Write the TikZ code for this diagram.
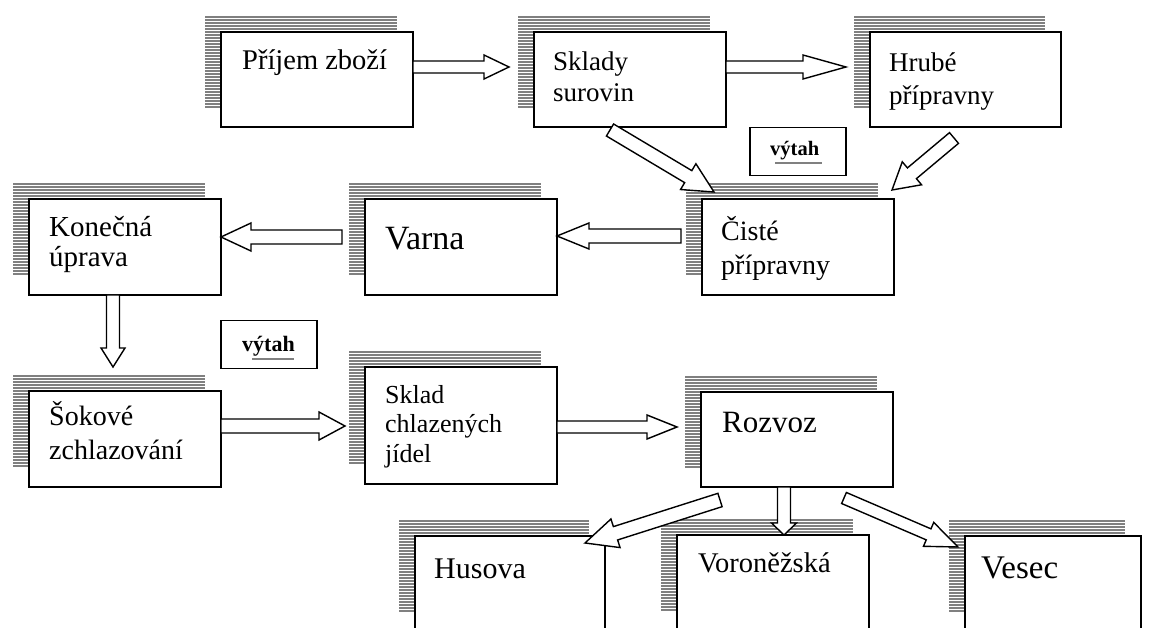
\documentclass[tikz,border=0pt]{standalone}
\usepackage{fontspec}
\setmainfont{Liberation Serif}
\tikzset{
  box/.style={draw, fill=white, line width=1.6pt, inner sep=0pt, outer sep=0pt},
  stripe/.style={draw=gray, line width=2pt},
  arrowline/.style={draw=black, fill=white, line width=1.4pt, line join=miter},
  lbl/.style={anchor=base west, inner sep=0pt, align=left},
  liftbox/.style={draw, fill=white, line width=1.5pt, inner sep=0pt, minimum width=96pt, minimum height=48pt, anchor=north west},
  liftline/.style={draw=gray, line width=2pt}
}
\newcommand{\stripedbox}[5]{%
  \pgfmathtruncatemacro{\nstripes}{(#5-4)/3}%
  \foreach \k in {0,...,\nstripes}{\draw[stripe] (#2-16,#3-15+3*\k) -- ++(#4,0);}
  \node[box, minimum width=#4pt, minimum height=#5pt, anchor=north west] (#1) at (#2,#3) {};
}
\newcommand{\blockarrow}[5]{%
  \path (#1); \pgfgetlastxy{\ax}{\ay}%
  \path (#2); \pgfgetlastxy{\bx}{\by}%
  \pgfmathsetmacro{\ang}{atan2(\by-\ay,\bx-\ax)}%
  \pgfmathsetmacro{\len}{veclen(\bx-\ax,\by-\ay)}%
  \pgfmathsetmacro{\hs}{\len-#5}%
  \begin{scope}[shift={(#1)}, rotate=\ang]
    \draw[arrowline] (0pt,-#3pt) -- (\hs pt,-#3pt) -- (\hs pt,-#4pt) -- (\len pt,0pt)
      -- (\hs pt,#4pt) -- (\hs pt,#3pt) -- (0pt,#3pt) -- cycle;
  \end{scope}
}
\begin{document}
\begin{tikzpicture}[x=1pt,y=-1pt]
\useasboundingbox (0,0) rectangle (1149,628);
\clip (0,0) rectangle (1149,628);

% boxes
\stripedbox{b1}{221}{32}{192}{95}
\stripedbox{b2}{534}{32}{192}{95}
\stripedbox{b3}{870}{32}{191}{95}
\stripedbox{b4}{29}{199}{192}{96}
\stripedbox{b5}{365}{199}{192}{96}
\stripedbox{b6}{702}{199}{192}{96}
\stripedbox{b7}{29}{391}{192}{96}
\stripedbox{b8}{365}{367}{192}{117}
\stripedbox{b9}{701}{392}{192}{95}
\stripedbox{b10}{415}{536}{190}{96}
\stripedbox{b11}{677}{535}{192}{96}
\stripedbox{b12}{965}{536}{176}{96}

% texts (multi-line nodes: anchor is the baseline of the last line)
\node[lbl, font=\fontsize{28.5}{30}\selectfont] (t1) at (242,70) {Příjem zboží};
\node[lbl, font=\fontsize{27}{31}\selectfont] (t2) at (553,102) {Sklady\\surovin};
\node[lbl, font=\fontsize{27}{33}\selectfont] (t3) at (889,105) {Hrubé\\přípravny};
\node[lbl, font=\fontsize{29}{30}\selectfont] (t4) at (49,267) {Konečná\\úprava};
\node[lbl, font=\fontsize{34}{36}\selectfont] (t5) at (385,250) {Varna};
\node[lbl, font=\fontsize{28}{34}\selectfont] (t6) at (721,275) {Čisté\\přípravny};
\node[lbl, font=\fontsize{28}{34}\selectfont] (t7) at (49,459) {Šokové\\zchlazování};
\node[lbl, font=\fontsize{26}{29.5}\selectfont] (t8) at (385,462) {Sklad\\chlazených\\jídel};
\node[lbl, font=\fontsize{31}{33}\selectfont] (t9) at (722,432) {Rozvoz};
\node[lbl, font=\fontsize{30}{32}\selectfont] (t10) at (434,578) {Husova};
\node[lbl, font=\fontsize{28.5}{30}\selectfont] (t11) at (698,572) {Voroněžská};
\node[lbl, font=\fontsize{33}{35}\selectfont] (t12) at (981,578) {Vesec};

% lift boxes
\node[liftbox] (l1) at (749,127) {};
\node[lbl, font=\bfseries\fontsize{20.5}{22}\selectfont] (lt1) at (770,156) {výtah};
\draw[liftline] (775,163) -- (822,163);
\node[liftbox] (l2) at (220,320) {};
\node[lbl, font=\bfseries\fontsize{22}{24}\selectfont] (lt2) at (242,352) {výtah};
\draw[liftline] (252,359) -- (294,359);

% arrow end points
\coordinate (a1s) at (413,67);  \coordinate (a1e) at (509,67);
\coordinate (a2s) at (726,67);  \coordinate (a2e) at (846,67);
\coordinate (a3s) at (610,130); \coordinate (a3e) at (714,192);
\coordinate (a4s) at (954,138); \coordinate (a4e) at (892,190);
\coordinate (a5s) at (681,236); \coordinate (a5e) at (557,236);
\coordinate (a6s) at (342,237); \coordinate (a6e) at (221,237);
\coordinate (a7s) at (113,295); \coordinate (a7e) at (113,367);
\coordinate (a8s) at (221,426); \coordinate (a8e) at (345,426);
\coordinate (a9s) at (557,427); \coordinate (a9e) at (677,427);
\coordinate (a10s) at (720,500); \coordinate (a10e) at (585,543);
\coordinate (a11s) at (784,487); \coordinate (a11e) at (784,535);
\coordinate (a12s) at (844,498); \coordinate (a12e) at (958,547);

\blockarrow{a1s}{a1e}{6}{12}{25}
\blockarrow{a2s}{a2e}{6}{12}{43}
\blockarrow{a3s}{a3e}{7}{15}{30}
\blockarrow{a4s}{a4e}{7}{15}{26}
\blockarrow{a5s}{a5e}{7}{13}{32}
\blockarrow{a6s}{a6e}{7}{14}{30}
\blockarrow{a7s}{a7e}{6.5}{12}{19}
\blockarrow{a8s}{a8e}{7}{14}{26}
\blockarrow{a9s}{a9e}{6}{12}{30}
\blockarrow{a10s}{a10e}{7}{15}{32}
\blockarrow{a11s}{a11e}{6.5}{12.5}{12}
\blockarrow{a12s}{a12e}{6}{13}{32}
\end{tikzpicture}
\end{document}
